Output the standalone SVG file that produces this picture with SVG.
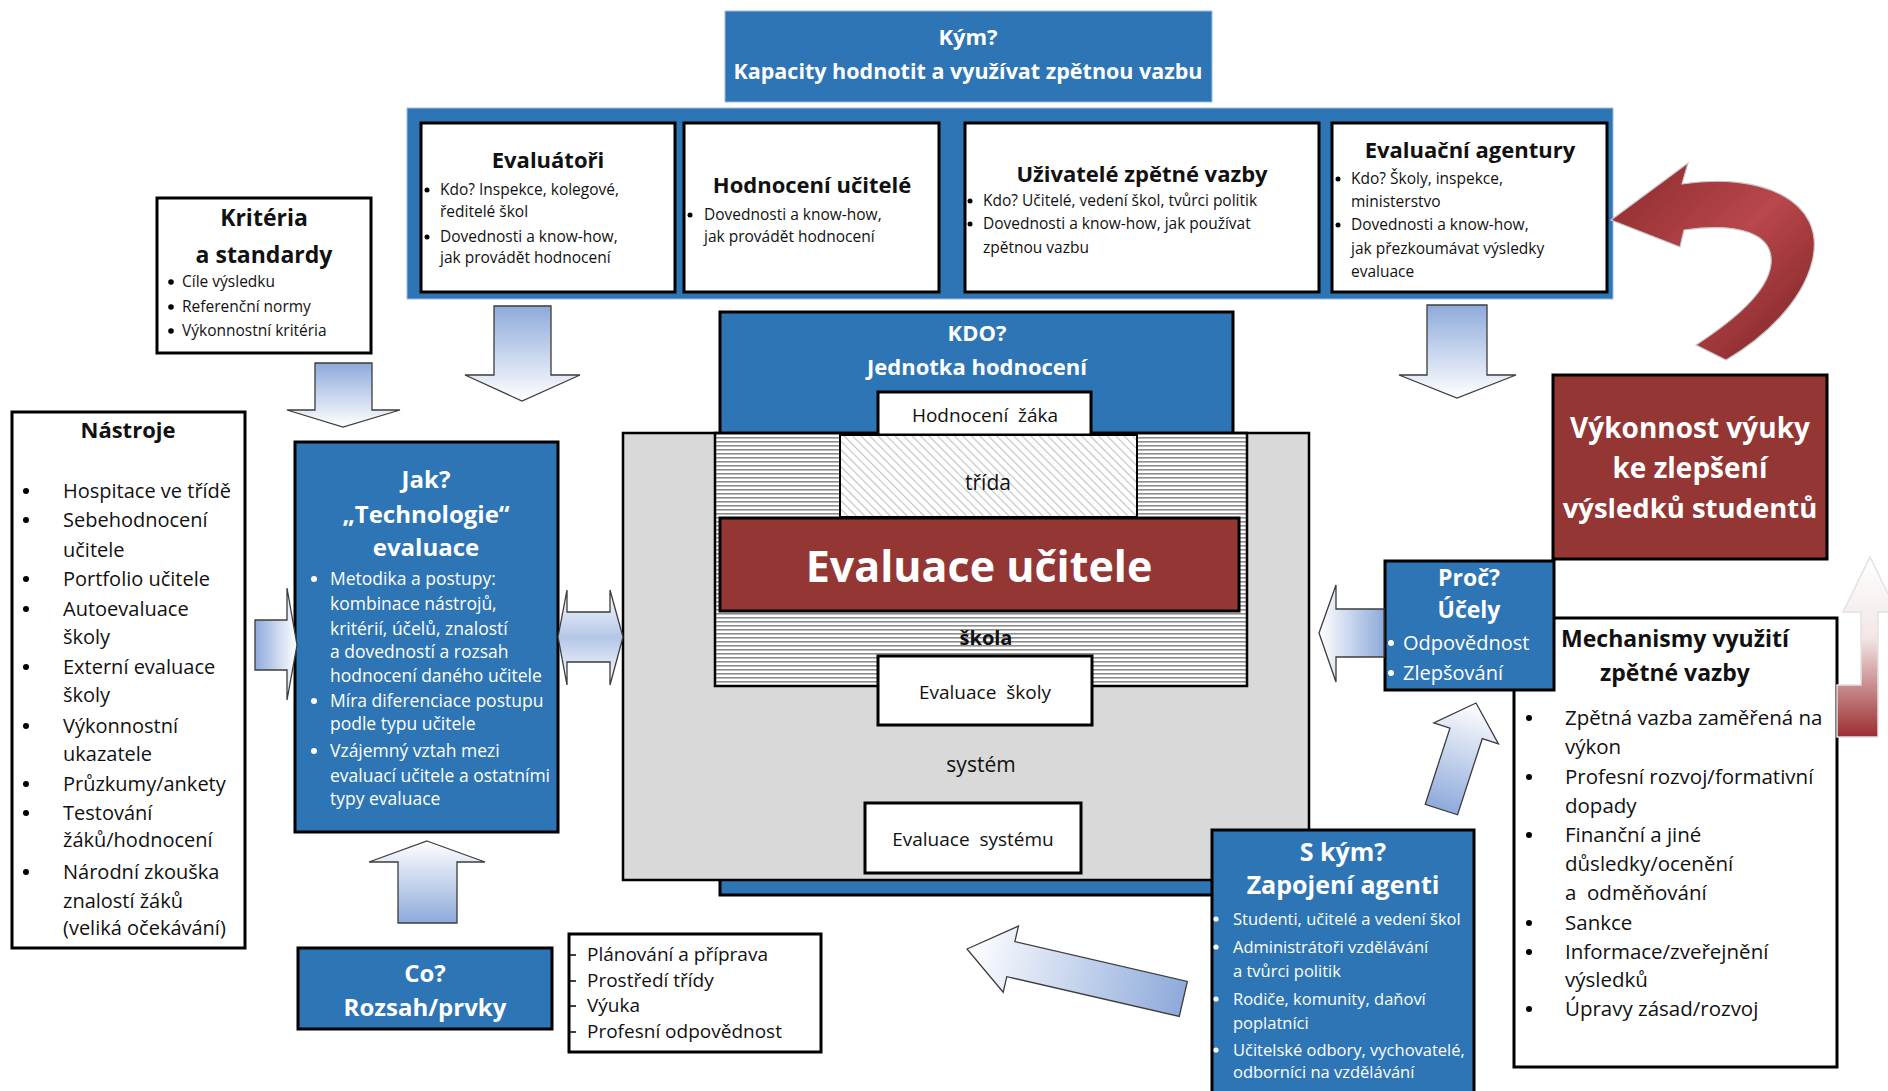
<svg xmlns="http://www.w3.org/2000/svg" width="1888" height="1091" viewBox="0 0 1888 1091">
  <defs>
    <style>
      text { font-family: "Open Sans", "Noto Sans", "Liberation Sans", sans-serif; fill: #111; }
      .b { font-weight: bold; }
      .w { fill: #fff; }
      .c { text-anchor: middle; }
      .wbox { fill: #fff; stroke: #000; stroke-width: 3; }
      .bbox { fill: #2E75B6; stroke: #000; stroke-width: 3; }
      .rbox { fill: #943634; stroke: #000; stroke-width: 3; }
      .arr { stroke: #3c3c3c; stroke-width: 1.3; stroke-linejoin: miter; }
      .dot { fill: #000; }
      .wdot { fill: #fff; }
    </style>
    <linearGradient id="gDown" x1="0" y1="0" x2="0" y2="1">
      <stop offset="0" stop-color="#8eaadb"/>
      <stop offset="1" stop-color="#ffffff"/>
    </linearGradient>
    <linearGradient id="gUp" x1="0" y1="0" x2="0" y2="1">
      <stop offset="0" stop-color="#ffffff"/>
      <stop offset="1" stop-color="#8eaadb"/>
    </linearGradient>
    <linearGradient id="gRight" x1="0" y1="0" x2="1" y2="0">
      <stop offset="0" stop-color="#8eaadb"/>
      <stop offset="1" stop-color="#ffffff"/>
    </linearGradient>
    <linearGradient id="gLeft" x1="0" y1="0" x2="1" y2="0">
      <stop offset="0" stop-color="#ffffff"/>
      <stop offset="1" stop-color="#8eaadb"/>
    </linearGradient>
    <linearGradient id="gBoth" x1="0" y1="0" x2="0" y2="1">
      <stop offset="0" stop-color="#ffffff"/>
      <stop offset="0.5" stop-color="#b4c6e7"/>
      <stop offset="1" stop-color="#ffffff"/>
    </linearGradient>
    <linearGradient id="gRedUp" x1="0" y1="0" x2="0" y2="1">
      <stop offset="0" stop-color="#ffffff"/>
      <stop offset="0.45" stop-color="#f3e6e6"/>
      <stop offset="1" stop-color="#9b2d30"/>
    </linearGradient>
    <linearGradient id="gCurve" x1="0" y1="0" x2="1" y2="1">
      <stop offset="0" stop-color="#8a2a2d"/>
      <stop offset="0.5" stop-color="#b9474b"/>
      <stop offset="1" stop-color="#7a2224"/>
    </linearGradient>
    <pattern id="hLines" width="8" height="4" patternUnits="userSpaceOnUse">
      <rect width="8" height="4" fill="#ffffff"/>
      <rect y="1" width="8" height="1.6" fill="#8c8c8c"/>
    </pattern>
    <pattern id="dLines" width="6" height="6" patternUnits="userSpaceOnUse" patternTransform="rotate(-45)">
      <rect width="6" height="6" fill="#ffffff"/>
      <rect width="1.2" height="6" fill="#c4c4c4"/>
    </pattern>
  </defs>

  <rect width="1888" height="1091" fill="#ffffff"/>

  <!-- capacity header -->
  <g id="kym">
    <rect x="725" y="11" width="487" height="91" fill="#2E75B6" stroke="#9dbbe0" stroke-width="1"/>
    <text class="b w c" x="968" y="45" font-size="22">Kým?</text>
    <text class="b w c" x="968" y="79" font-size="21.5">Kapacity hodnotit a využívat zpětnou vazbu</text>
  </g>

  <!-- band with the four capacity boxes -->
  <g id="capacity-band">
    <rect x="407" y="108" width="1206" height="191" fill="#2E75B6" stroke="#9dbbe0" stroke-width="1"/>
  </g>

  <g id="evaluatori">
    <rect class="wbox" x="421" y="123" width="254" height="169"/>
    <text class="b c" x="548" y="168" font-size="22">Evaluátoři</text>
    <circle class="dot" cx="427" cy="190" r="2.5"/>
    <text x="440" y="195" font-size="15.5">Kdo? Inspekce, kolegové,</text>
    <text x="440" y="217" font-size="15.5">ředitelé škol</text>
    <circle class="dot" cx="427" cy="237" r="2.5"/>
    <text x="440" y="242" font-size="15.5">Dovednosti  a know-how,</text>
    <text x="440" y="263" font-size="15.5">jak  provádět hodnocení</text>
  </g>

  <g id="hodnoceni-ucitele">
    <rect class="wbox" x="684" y="123" width="255" height="169"/>
    <text class="b c" x="812" y="193" font-size="22">Hodnocení učitelé</text>
    <circle class="dot" cx="690" cy="215" r="2.5"/>
    <text x="704" y="220" font-size="15.5">Dovednosti  a know-how,</text>
    <text x="704" y="242" font-size="15.5">jak provádět  hodnocení</text>
  </g>

  <g id="uzivatele">
    <rect class="wbox" x="965" y="123" width="354" height="169"/>
    <text class="b c" x="1142" y="182" font-size="22">Uživatelé zpětné vazby</text>
    <circle class="dot" cx="970" cy="201" r="2.5"/>
    <text x="983" y="206" font-size="15.5">Kdo? Učitelé, vedení škol, tvůrci  politik</text>
    <circle class="dot" cx="970" cy="224" r="2.5"/>
    <text x="983" y="229" font-size="15.5">Dovednosti  a know-how, jak používat</text>
    <text x="983" y="253" font-size="15.5">zpětnou vazbu</text>
  </g>

  <g id="agentury">
    <rect class="wbox" x="1332" y="123" width="275" height="169"/>
    <text class="b c" x="1470" y="158" font-size="22">Evaluační agentury</text>
    <circle class="dot" cx="1338" cy="179" r="2.5"/>
    <text x="1351" y="184" font-size="15.5">Kdo? Školy, inspekce,</text>
    <text x="1351" y="207" font-size="15.5">ministerstvo</text>
    <circle class="dot" cx="1338" cy="225" r="2.5"/>
    <text x="1351" y="230" font-size="15.5">Dovednosti  a know-how,</text>
    <text x="1351" y="254" font-size="15.5">jak přezkoumávat  výsledky</text>
    <text x="1351" y="277" font-size="15.5">evaluace</text>
  </g>

  <g id="kriteria">
    <rect class="wbox" x="157" y="198" width="214" height="155"/>
    <text class="b c" x="264" y="226" font-size="23">Kritéria</text>
    <text class="b c" x="264" y="263" font-size="23">a standardy</text>
    <circle class="dot" cx="171" cy="282" r="2.8"/>
    <text x="182" y="287" font-size="15.5">Cíle výsledku</text>
    <circle class="dot" cx="171" cy="307" r="2.8"/>
    <text x="182" y="312" font-size="15.5">Referenční normy</text>
    <circle class="dot" cx="171" cy="331" r="2.8"/>
    <text x="182" y="336" font-size="15.5">Výkonnostní  kritéria</text>
  </g>

  <g id="nastroje">
    <rect class="wbox" x="12" y="412" width="233" height="536"/>
    <text class="b c" x="128" y="438" font-size="22">Nástroje</text>
    <g font-size="20">
      <circle class="dot" cx="26" cy="491" r="3"/>
      <text x="63" y="498">Hospitace ve třídě</text>
      <circle class="dot" cx="26" cy="520" r="3"/>
      <text x="63" y="527">Sebehodnocení</text>
      <text x="63" y="557">učitele</text>
      <circle class="dot" cx="26" cy="579" r="3"/>
      <text x="63" y="586">Portfolio učitele</text>
      <circle class="dot" cx="26" cy="609" r="3"/>
      <text x="63" y="616">Autoevaluace</text>
      <text x="63" y="644">školy</text>
      <circle class="dot" cx="26" cy="667" r="3"/>
      <text x="63" y="674">Externí evaluace</text>
      <text x="63" y="702">školy</text>
      <circle class="dot" cx="26" cy="726" r="3"/>
      <text x="63" y="733">Výkonnostní</text>
      <text x="63" y="761">ukazatele</text>
      <circle class="dot" cx="26" cy="784" r="3"/>
      <text x="63" y="791">Průzkumy/ankety</text>
      <circle class="dot" cx="26" cy="813" r="3"/>
      <text x="63" y="820">Testování</text>
      <text x="63" y="847">žáků/hodnocení</text>
      <circle class="dot" cx="26" cy="872" r="3"/>
      <text x="63" y="879">Národní zkouška</text>
      <text x="63" y="908">znalostí žáků</text>
      <text x="63" y="935">(veliká očekávání)</text>
    </g>
  </g>

  <g id="jak">
    <rect class="bbox" x="295" y="442" width="263" height="390"/>
    <text class="b w c" x="426" y="488" font-size="24">Jak?</text>
    <text class="b w c" x="426" y="523" font-size="24">„Technologie“</text>
    <text class="b w c" x="426" y="556" font-size="24">evaluace</text>
    <g font-size="17.5">
      <circle class="wdot" cx="314" cy="579" r="3"/>
      <text class="w" x="330" y="585">Metodika a postupy:</text>
      <text class="w" x="330" y="610">kombinace nástrojů,</text>
      <text class="w" x="330" y="635">kritérií, účelů, znalostí</text>
      <text class="w" x="330" y="658">a dovedností a rozsah</text>
      <text class="w" x="330" y="682">hodnocení daného učitele</text>
      <circle class="wdot" cx="314" cy="701" r="3"/>
      <text class="w" x="330" y="707">Míra diferenciace postupu</text>
      <text class="w" x="330" y="730">podle typu učitele</text>
      <circle class="wdot" cx="314" cy="751" r="3"/>
      <text class="w" x="330" y="757">Vzájemný vztah  mezi</text>
      <text class="w" x="330" y="782">evaluací učitele a ostatními</text>
      <text class="w" x="330" y="805">typy evaluace</text>
    </g>
  </g>

  <!-- nested evaluation levels -->
  <g id="kdo">
    <rect class="bbox" x="720" y="312" width="513" height="583"/>
    <text class="b w c" x="977" y="341" font-size="22">KDO?</text>
    <text class="b w c" x="977" y="375" font-size="22">Jednotka hodnocení</text>
  </g>

  <g id="system">
    <rect x="623" y="433" width="686" height="447" fill="#d9d9d9" stroke="#000" stroke-width="2.5"/>
    <text class="c" x="981" y="772" font-size="21">systém</text>
  </g>

  <g id="skola">
    <rect x="715" y="433" width="532" height="253" fill="url(#hLines)" stroke="#000" stroke-width="2.5"/>
    <text class="b c" x="986" y="645" font-size="20">škola</text>
  </g>

  <g id="hodnoceni-zaka">
    <rect class="wbox" x="878" y="392" width="213" height="43"/>
    <text class="c" x="985" y="422" font-size="19" xml:space="preserve">Hodnocení  žáka</text>
  </g>

  <g id="trida">
    <rect x="840" y="435" width="297" height="82" fill="url(#dLines)" stroke="#000" stroke-width="2"/>
    <text class="c" x="988" y="490" font-size="21">třída</text>
  </g>

  <g id="evaluace-ucitele">
    <rect class="rbox" x="720" y="518" width="519" height="93"/>
    <text class="b w c" x="979" y="582" font-size="43">Evaluace učitele</text>
  </g>

  <g id="evaluace-skoly">
    <rect class="wbox" x="878" y="656" width="214" height="69"/>
    <text class="c" x="985" y="699" font-size="19" xml:space="preserve">Evaluace  školy</text>
  </g>

  <g id="evaluace-systemu">
    <rect class="wbox" x="865" y="803" width="216" height="70"/>
    <text class="c" x="973" y="846" font-size="19" xml:space="preserve">Evaluace  systému</text>
  </g>

  <g id="s-kym">
    <rect class="bbox" x="1212" y="830" width="262" height="270"/>
    <text class="b w c" x="1343" y="861" font-size="25">S kým?</text>
    <text class="b w c" x="1343" y="894" font-size="25">Zapojení agenti</text>
    <g font-size="16.5">
      <circle class="wdot" cx="1216" cy="919" r="2.6"/>
      <text class="w" x="1233" y="925">Studenti, učitelé a vedení škol</text>
      <circle class="wdot" cx="1216" cy="947" r="2.6"/>
      <text class="w" x="1233" y="953">Administrátoři vzdělávání</text>
      <text class="w" x="1233" y="977">a tvůrci  politik</text>
      <circle class="wdot" cx="1216" cy="999" r="2.6"/>
      <text class="w" x="1233" y="1005">Rodiče, komunity,  daňoví</text>
      <text class="w" x="1233" y="1029">poplatníci</text>
      <circle class="wdot" cx="1216" cy="1050" r="2.6"/>
      <text class="w" x="1233" y="1056">Učitelské odbory,  vychovatelé,</text>
      <text class="w" x="1233" y="1078">odborníci  na vzdělávání</text>
    </g>
  </g>

  <g id="vykonnost">
    <rect class="rbox" x="1553" y="375" width="274" height="184"/>
    <text class="b w c" x="1690" y="438" font-size="28">Výkonnost  výuky</text>
    <text class="b w c" x="1690" y="478" font-size="28">ke zlepšení</text>
    <text class="b w c" x="1690" y="518" font-size="27.5">výsledků studentů</text>
  </g>

  <g id="mechanismy">
    <rect class="wbox" x="1514" y="618" width="323" height="449"/>
    <text class="b c" x="1675" y="647" font-size="23">Mechanismy využití</text>
    <text class="b c" x="1675" y="681" font-size="23">zpětné vazby</text>
    <g font-size="20.5">
      <circle class="dot" cx="1529" cy="718" r="3"/>
      <text x="1565" y="725">Zpětná vazba zaměřená na</text>
      <text x="1565" y="754">výkon</text>
      <circle class="dot" cx="1529" cy="777" r="3"/>
      <text x="1565" y="784">Profesní rozvoj/formativní</text>
      <text x="1565" y="813">dopady</text>
      <circle class="dot" cx="1529" cy="835" r="3"/>
      <text x="1565" y="842">Finanční a jiné</text>
      <text x="1565" y="871">důsledky/ocenění</text>
      <text x="1565" y="900" xml:space="preserve">a  odměňování</text>
      <circle class="dot" cx="1529" cy="923" r="3"/>
      <text x="1565" y="930">Sankce</text>
      <circle class="dot" cx="1529" cy="952" r="3"/>
      <text x="1565" y="959">Informace/zveřejnění</text>
      <text x="1565" y="987">výsledků</text>
      <circle class="dot" cx="1529" cy="1009" r="3"/>
      <text x="1565" y="1016">Úpravy zásad/rozvoj</text>
    </g>
  </g>

  <g id="proc">
    <rect class="bbox" x="1385" y="561" width="169" height="129"/>
    <text class="b w c" x="1469" y="586" font-size="23">Proč?</text>
    <text class="b w c" x="1469" y="618" font-size="23">Účely</text>
    <circle class="wdot" cx="1391" cy="643" r="3"/>
    <text class="w" x="1403" y="650" font-size="20">Odpovědnost</text>
    <circle class="wdot" cx="1391" cy="673" r="3"/>
    <text class="w" x="1403" y="680" font-size="20">Zlepšování</text>
  </g>

  <g id="co">
    <rect class="bbox" x="298" y="948" width="254" height="81"/>
    <text class="b w c" x="425" y="982" font-size="24">Co?</text>
    <text class="b w c" x="425" y="1016" font-size="24">Rozsah/prvky</text>
  </g>

  <g id="prvky">
    <rect class="wbox" x="569" y="934" width="252" height="118"/>
    <g font-size="19">
      <line x1="570" y1="955" x2="576" y2="955" stroke="#000" stroke-width="1.5"/>
      <text x="587" y="961">Plánování a příprava</text>
      <line x1="570" y1="981" x2="576" y2="981" stroke="#000" stroke-width="1.5"/>
      <text x="587" y="987">Prostředí třídy</text>
      <line x1="570" y1="1006" x2="576" y2="1006" stroke="#000" stroke-width="1.5"/>
      <text x="587" y="1012">Výuka</text>
      <line x1="570" y1="1032" x2="576" y2="1032" stroke="#000" stroke-width="1.5"/>
      <text x="587" y="1038">Profesní odpovědnost</text>
    </g>
  </g>

  <!-- block arrows linking the parts -->
  <g id="connectors">
    <!-- criteria down into the method box -->
    <polygon class="arr" fill="url(#gDown)" points="315,363 372,363 372,410 400,410 343,427 287,410 315,410"/>
    <!-- capacity band down into the method box -->
    <polygon class="arr" fill="url(#gDown)" points="494,306 551,306 551,375 580,375 522,401 465,375 494,375"/>
    <!-- capacity band down towards purposes -->
    <polygon class="arr" fill="url(#gDown)" points="1427,305 1487,305 1487,375 1516,375 1457,398 1399,375 1427,375"/>
    <!-- tools into the method box -->
    <polygon class="arr" fill="url(#gRight)" points="255,620 287,620 287,588 297,645 287,700 287,670 255,670"/>
    <!-- method box to and from the evaluation unit -->
    <polygon class="arr" fill="url(#gBoth)" points="558,637 567,590 567,612 610,612 610,590 623,637 610,685 610,662 567,662 567,685"/>
    <!-- purposes into the evaluation unit -->
    <polygon class="arr" fill="url(#gLeft)" points="1319,633 1336,585 1336,609 1384,609 1384,657 1336,657 1336,682"/>
    <!-- scope up into the method box -->
    <polygon class="arr" fill="url(#gUp)" points="427,841 485,862 457,862 457,923 398,923 398,862 369,862"/>
    <!-- agents towards the evaluation unit -->
    <g transform="translate(967,949) rotate(13)">
      <polygon class="arr" fill="url(#gLeft)" points="0,0 45,-34 45,-18 222,-18 222,18 45,18 45,34"/>
    </g>
    <!-- agents towards purposes -->
    <g transform="translate(1476,703) rotate(108)">
      <polygon class="arr" fill="url(#gLeft)" points="0,0 32,-34 32,-17 112,-17 112,17 32,17 32,34"/>
    </g>
    <!-- feedback loop back up to performance -->
    <polygon fill="url(#gRedUp)" stroke="#e2e2e2" stroke-width="1.5" points="1837,685 1861,685 1861,612 1843,612 1870,557 1897,612 1878,612 1878,737 1837,737"/>
    <!-- curved arrow from performance back to the capacity band -->
    <path fill="url(#gCurve)" stroke="#c9c9c9" stroke-width="1.2" d="M1611,220 L1688,163 L1682,184 C1760,172 1828,200 1812,262 C1802,302 1764,338 1726,360 L1696,345 C1734,320 1768,292 1771,264 C1774,234 1740,222 1684,230 L1680,247 Z"/>
  </g>
</svg>
